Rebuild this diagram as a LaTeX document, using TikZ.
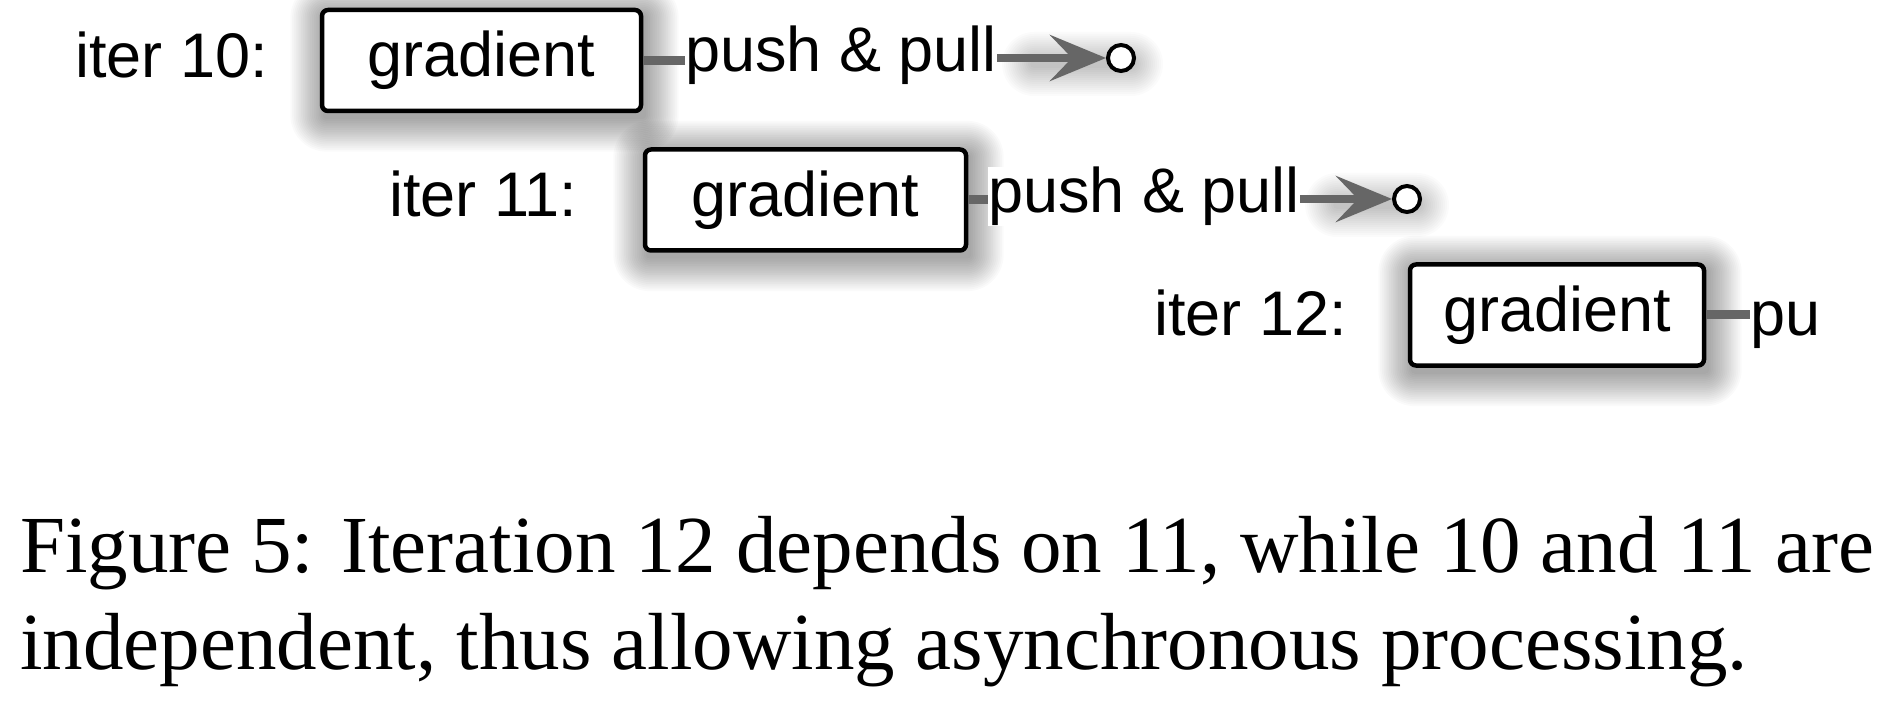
\documentclass[tikz,border=0pt]{standalone}
\usepackage{fontspec}
\setmainfont{Liberation Serif}
\newfontfamily\helv{Liberation Sans}
\usetikzlibrary{arrows.meta}
\pgfdeclarelayer{background}
\pgfdeclarelayer{backmost}
\pgfsetlayers{backmost,background,main}
\definecolor{arrgray}{HTML}{666666}
\tikzset{
  lbl/.style={anchor=base west, inner sep=0pt, font=\helv\fontsize{63}{70}\selectfont},
  gradbox/.style={draw=black, line width=4.5pt, rounded corners=6pt, fill=white,
    inner sep=0pt, font=\helv\fontsize{63}{70}\selectfont, minimum height=101pt},
  pushtxt/.style={lbl, fill=white},
  stub/.style={draw=arrgray, line width=9pt},
  pushar/.style={draw=arrgray, line width=8pt, -{Stealth[length=56pt,width=46pt,inset=22pt]}},
  endpt/.style={circle, draw=black, line width=4pt, fill=white, minimum size=26pt, inner sep=0pt},
  captxt/.style={anchor=base west, inner sep=0pt, font=\fontsize{81}{96}\selectfont}
}
% #1,#2 corners, #3 steps, #4 step size, #5 opacity per layer
\newcommand{\blurshadow}[5]{%
  \begin{pgfonlayer}{background}
  \foreach \k in {0,...,#3}{
    \pgfmathsetmacro\dd{#4*\k}
    \pgfmathsetmacro\rr{4+\dd}
    \fill[black, opacity=#5, rounded corners=\rr pt]
      ([xshift={3-\dd}, yshift={-6-\dd}]#1) rectangle ([xshift={3+\dd}, yshift={-6+\dd}]#2);
  }
  \end{pgfonlayer}}
\begin{document}
\begin{tikzpicture}[x=1pt, y=-1pt]
\begin{pgfonlayer}{backmost}
\fill[white] (0,0) rectangle (1890,703);
\end{pgfonlayer}
\useasboundingbox (0,0) rectangle (1890,703);

% row 1
\node[lbl] (it10) at (75,78) {iter 10:};
\node[gradbox, minimum width=319pt] (g1) at (481.5,60.5) {gradient};
\node[pushtxt] (p1) at (685,72) {push \& pull};
\node[endpt] (c1) at (1121,58) {};
\coordinate (a1) at (p1.east |- c1.center);
\draw[stub] (g1.east) -- (g1.east -| p1.west);
\draw[pushar] (a1) -- (c1.west);

% row 2
\node[lbl] (it11) at (389,217) {iter 11:};
\node[gradbox, minimum width=321pt] (g2) at (805.5,200) {gradient};
\node[pushtxt] (p2) at (988,213) {push \& pull};
\node[endpt] (c2) at (1407,199) {};
\coordinate (a2) at (p2.east |- c2.center);
\draw[stub] (g2.east) -- (g2.east -| p2.west);
\draw[pushar] (a2) -- (c2.west);

% row 3
\node[lbl] (it12) at (1154,335) {iter 12:};
\node[gradbox, minimum width=294pt] (g3) at (1557,315) {gradient};
\node[lbl] (p3) at (1750,335) {pu};
\draw[stub] (g3.east) -- (g3.east -| p3.west);

% shadows
\blurshadow{g1.south west}{g1.north east}{18}{1.8}{0.019}
\blurshadow{g2.south west}{g2.north east}{18}{1.8}{0.019}
\blurshadow{g3.south west}{g3.north east}{18}{1.8}{0.019}
\coordinate (s1a) at ([xshift=30pt, yshift=-4pt]a1);
\coordinate (s1b) at ([xshift=-4pt, yshift=4pt]c1.east);
\coordinate (s2a) at ([xshift=30pt, yshift=-4pt]a2);
\coordinate (s2b) at ([xshift=-4pt, yshift=4pt]c2.east);
\blurshadow{s1a}{s1b}{14}{2}{0.014}
\blurshadow{s2a}{s2b}{14}{2}{0.014}

% caption
\node[captxt] (cap1) at (20,572) {\hbox to 1854pt{Figure 5: Iteration 12 depends on 11, while 10 and 11 are}};
\node[captxt] (cap2) at (20,669) {independent, thus allowing asynchronous processing.};
\end{tikzpicture}
\end{document}
